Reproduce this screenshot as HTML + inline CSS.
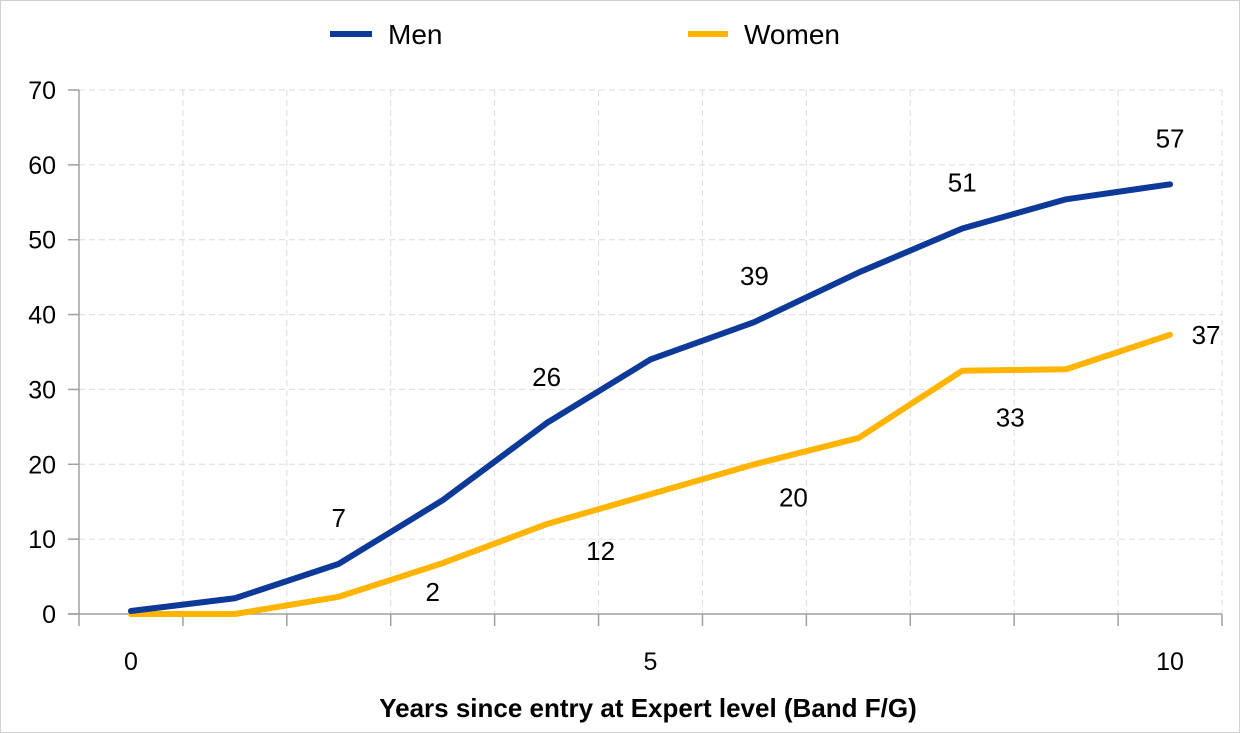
<!DOCTYPE html>
<html><head><meta charset="utf-8"><style>
body{margin:0;background:#fff;}
svg{display:block;font-family:"Liberation Sans",Arial,sans-serif;}
</style></head><body>
<svg id="chart" width="1240" height="733" viewBox="0 0 1240 733">
<rect x="0.5" y="0.5" width="1239" height="732" fill="#fff" stroke="#d0d0d0"/>
<g id="grid"></g>
<g id="axes"></g>
<g id="series"></g>
<g id="labels"></g>
<g>
<line x1="330" y1="34" x2="372" y2="34" stroke="#0d3a99" stroke-width="6"/>
<text x="388" y="44" font-size="28" fill="#000">Men</text>
<line x1="688" y1="34" x2="728" y2="34" stroke="#ffb400" stroke-width="6"/>
<text x="744" y="44" font-size="28" fill="#000">Women</text>
</g>
<text x="648" y="717" font-size="26" font-weight="bold" text-anchor="middle">Years since entry at Expert level (Band F/G)</text>
</svg>
<script>
const categories=[0,1,2,3,4,5,6,7,8,9,10];
const xTickLabels=["0","","","","","5","","","","","10"];
const yTicks=[0,10,20,30,40,50,60,70];
const men=[0.4,2.1,6.7,15.2,25.5,34,39,45.6,51.5,55.4,57.4];
const women=[0,0,2.3,6.8,12,16,20,23.5,32.5,32.7,37.3];
const menLabelIdx=[2,4,6,8,10];
const menLabelText=["7","26","39","51","57"];
const womenLabelIdx=[2,4,6,8,10];
const womenLabelText=["2","12","20","33","37"];

const NS="http://www.w3.org/2000/svg";
const plotLeft=79,plotRight=1222,plotTop=90,plotBottom=614,yMax=70;
const bw=(plotRight-plotLeft)/categories.length;
const xs=i=>plotLeft+bw*(i+0.5);
const ys=v=>plotBottom-(plotBottom-plotTop)*v/yMax;
function mk(tag,attrs,parent){const e=document.createElementNS(NS,tag);for(const k in attrs)e.setAttribute(k,attrs[k]);parent.appendChild(e);return e;}
const grid=document.getElementById('grid'),axes=document.getElementById('axes'),series=document.getElementById('series'),labels=document.getElementById('labels');
yTicks.forEach(t=>{
  if(t>0){const g=mk('line',{x1:plotLeft,x2:plotRight,y1:ys(t),y2:ys(t),stroke:'#dcdcdc','stroke-dasharray':'6,4','stroke-width':1},grid);
  
  }
  const tk=mk('line',{x1:68,x2:plotLeft,y1:ys(t),y2:ys(t),stroke:'#a0a0a0','stroke-width':1.5},axes);
  
  
  const tx=mk('text',{x:56,y:ys(t)+9,'font-size':25,'text-anchor':'end'},axes);tx.textContent=t;
  
  
});
for(let i=0;i<=categories.length;i++){
  const xb=plotLeft+bw*i;
  if(i>0){const g=mk('line',{x1:xb,x2:xb,y1:plotTop,y2:plotBottom,stroke:'#dcdcdc','stroke-dasharray':'6,4','stroke-width':1},grid);
  
  }
  const tk=mk('line',{x1:xb,x2:xb,y1:plotBottom,y2:plotBottom+12,stroke:'#a0a0a0','stroke-width':1.5},axes);
  
  
}
categories.forEach((c,i)=>{if(xTickLabels[i]){const t=mk('text',{x:xs(i),y:670,'font-size':25,'text-anchor':'middle'},axes);t.textContent=xTickLabels[i];
  
  }});
const ya=mk('line',{x1:plotLeft,x2:plotLeft,y1:plotTop,y2:plotBottom,stroke:'#a0a0a0','stroke-width':1.5},axes);


const xa=mk('line',{x1:68,x2:plotRight,y1:plotBottom,y2:plotBottom,stroke:'#a0a0a0','stroke-width':1.5},axes);


function drawLine(vals,color,name){const p=mk('polyline',{points:vals.map((v,i)=>xs(i)+','+ys(v)).join(' '),fill:'none',stroke:color,'stroke-width':6,'stroke-linejoin':'round','stroke-linecap':'round'},series);
  
  }
drawLine(women,'#ffb400','women-line');
drawLine(men,'#0d3a99','men-line');
menLabelIdx.forEach((idx,k)=>{const t=mk('text',{x:xs(idx),y:ys(men[idx])-46+9,'font-size':26,'text-anchor':'middle'},labels);t.textContent=menLabelText[k];
  
  });
const womOff=[[94,-5],[54,27],[39,33],[48,47],[36,0]];
womenLabelIdx.forEach((idx,k)=>{const t=mk('text',{x:xs(idx)+womOff[k][0],y:ys(women[idx])+womOff[k][1]+9,'font-size':26,'text-anchor':'middle'},labels);t.textContent=womenLabelText[k];
  
  });
</script>
</body></html>
